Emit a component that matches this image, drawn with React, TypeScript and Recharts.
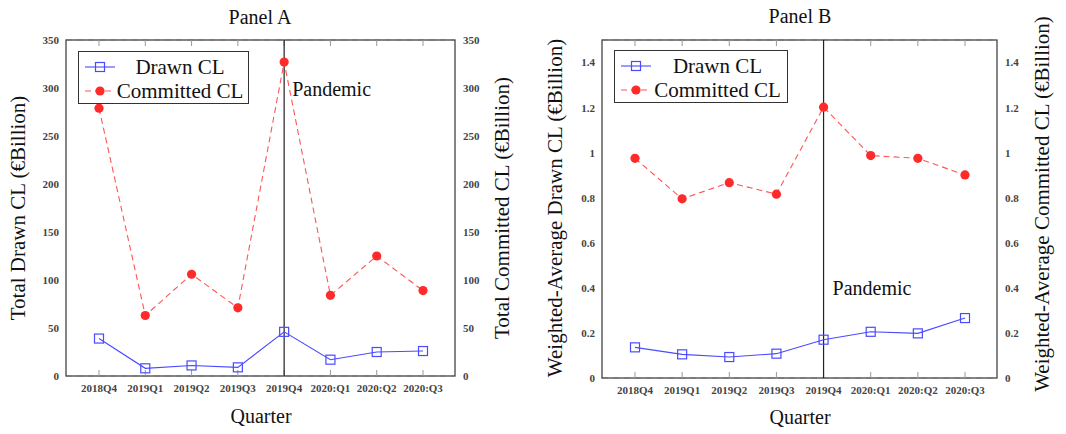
import * as R from 'recharts'
import { LineChart, Line, XAxis, YAxis, CartesianGrid, ReferenceLine } from 'recharts'

const quarters = ['2018Q4', '2019Q1', '2019Q2', '2019Q3', '2019Q4', '2020:Q1', '2020:Q2', '2020:Q3']
const totalDrawn = [39, 8, 11, 9, 46, 17, 25, 26]
const totalCommitted = [279, 63, 106, 71, 327, 84, 125, 89]
const avgDrawn = [0.136, 0.105, 0.093, 0.108, 0.17, 0.205, 0.198, 0.266]
const avgCommitted = [0.975, 0.795, 0.867, 0.816, 1.202, 0.987, 0.975, 0.901]
const ticksA = [0, 50, 100, 150, 200, 250, 300, 350]
const ticksB = [0, 0.2, 0.4, 0.6, 0.8, 1, 1.2, 1.4]

const BLUE = '#4a4aff'
const RED = '#ff2a2a'
const FONT = '"Liberation Serif", "DejaVu Serif", serif'

const dataA = quarters.map((q, i) => ({ q, drawn: totalDrawn[i], committed: totalCommitted[i] }))
const dataB = quarters.map((q, i) => ({ q, drawn: avgDrawn[i], committed: avgCommitted[i] }))

const usePlotArea: (() => { x: number; y: number; width: number; height: number } | undefined) | undefined =
  (R as any).usePlotArea

// box around the plot area
function Frame() {
  const area = usePlotArea ? usePlotArea() : undefined
  if (!area) return null
  return <rect x={area.x} y={area.y} width={area.width} height={area.height} fill="none" stroke="#444" strokeWidth={1.3} />
}

const SquareDot = (p: any) => {
  if (p.cx == null || p.cy == null) return <g key={p.index} />
  return <rect key={p.index} x={p.cx - 4.5} y={p.cy - 4.5} width={9} height={9} fill="none" stroke={BLUE} strokeWidth={1.2} />
}
const RoundDot = (p: any) => {
  if (p.cx == null || p.cy == null) return <g key={p.index} />
  return <circle key={p.index} cx={p.cx} cy={p.cy} r={4.6} fill={RED} stroke="none" />
}

const tickStyle = { fontSize: 11, fill: '#444', fontFamily: FONT, fontWeight: 700 }

interface PanelProps {
  left: number
  width: number
  data: { q: string; drawn: number; committed: number }[]
  domain: [number, number]
  ticks: number[]
  margin: { top: number; right: number; bottom: number; left: number }
  pandemicDx: number
  pandemicDy: number
}

function Panel({ left, width, data, domain, ticks, margin, pandemicDx, pandemicDy }: PanelProps) {
  const pad = { left: 33, right: 32 }
  const [lo, hi] = domain
  const tickLen = (hi - lo) * 0.018
  return (
    <div style={{ position: 'absolute', left, top: 0 }}>
      <LineChart width={width} height={434} data={data} margin={margin}>
        <CartesianGrid vertical={false} stroke="#c4c4c4" strokeDasharray="6 5" />
        <XAxis dataKey="q" padding={pad} tick={tickStyle} tickLine={false} tickSize={5} tickMargin={3}
          axisLine={false} height={30} interval={0} />
        <YAxis yAxisId="left" domain={domain} ticks={ticks} width={60} tick={tickStyle} tickLine={false}
          tickSize={5} tickMargin={2} axisLine={false} allowDataOverflow />
        <YAxis yAxisId="right" orientation="right" domain={domain} ticks={ticks} width={60} tick={tickStyle}
          tickLine={false} tickSize={5} tickMargin={3} axisLine={false} allowDataOverflow />
        {quarters.map((q) => (
          <ReferenceLine key={'b' + q} yAxisId="left" ifOverflow="visible" stroke="#999"
            segment={[{ x: q, y: lo }, { x: q, y: lo + tickLen }]} />
        ))}
        {quarters.map((q) => (
          <ReferenceLine key={'t' + q} yAxisId="left" ifOverflow="visible" stroke="#999"
            segment={[{ x: q, y: hi }, { x: q, y: hi - tickLen }]} />
        ))}
        <Frame />
        <ReferenceLine yAxisId="left" x="2019Q4" stroke="#222" strokeWidth={1.2}
          label={(p: any) => (
            <text x={p.viewBox.x + pandemicDx} y={p.viewBox.y + pandemicDy} fontFamily={FONT} fontSize={20} fill="#111">
              Pandemic
            </text>
          )} />
        <Line yAxisId="left" dataKey="drawn" stroke={BLUE} strokeWidth={1.1} dot={SquareDot} isAnimationActive={false} />
        <Line yAxisId="right" dataKey="committed" stroke={RED} strokeOpacity={0.8} strokeWidth={1.1} strokeDasharray="6 4"
          dot={RoundDot} isAnimationActive={false} />
      </LineChart>
    </div>
  )
}

function Legend({ left, top, width }: { left: number; top: number; width: number }) {
  const row = (marker: 'sq' | 'dot', label: string) => (
    <div style={{ display: 'flex', alignItems: 'center', height: 24 }}>
      <svg width={32} height={14} style={{ flexShrink: 0 }}>
        {marker === 'sq' ? (
          <>
            <line x1={1} x2={31} y1={7} y2={7} stroke={BLUE} strokeWidth={1.1} />
            <rect x={11.5} y={2.5} width={9} height={9} fill="none" stroke={BLUE} strokeWidth={1.2} />
          </>
        ) : (
          <>
            <line x1={1} x2={31} y1={7} y2={7} stroke={RED} strokeOpacity={0.8} strokeWidth={1.1} strokeDasharray="6 4" />
            <circle cx={16} cy={7} r={4.6} fill={RED} />
          </>
        )}
      </svg>
      <span style={{ flex: 1, textAlign: 'center', fontSize: 21, color: '#111', whiteSpace: 'nowrap' }}>{label}</span>
    </div>
  )
  return (
    <div style={{
      position: 'absolute', left, top, width, height: 53, boxSizing: 'border-box', border: '1.3px solid #333',
      background: '#fff', fontFamily: FONT, padding: '3px 4px 0 5px',
    }}>
      {row('sq', 'Drawn CL')}
      {row('dot', 'Committed CL')}
    </div>
  )
}

function Text({ x, y, children, rotate, size = 20 }: { x: number; y: number; children: string; rotate?: boolean; size?: number }) {
  return (
    <div style={{
      position: 'absolute', left: x, top: y, transform: `translate(-50%, -50%)${rotate ? ' rotate(-90deg)' : ''}`,
      whiteSpace: 'nowrap', fontFamily: FONT, fontSize: size, color: '#111', lineHeight: 1,
    }}>
      {children}
    </div>
  )
}

export default function App() {
  return (
    <div style={{ position: 'absolute', left: 0, top: 0, width: 1066, height: 434, background: '#fff', overflow: 'hidden' }}>
      <Panel left={0} width={530} data={dataA} domain={[0, 350]} ticks={ticksA}
        margin={{ top: 40, right: 15, bottom: 28, left: 6 }} pandemicDx={8} pandemicDy={56} />
      <Panel left={533} width={533} data={dataB} domain={[0, 1.5]} ticks={ticksB}
        margin={{ top: 40, right: 9, bottom: 26, left: 9 }} pandemicDx={9} pandemicDy={255} />
      <Legend left={78} top={51} width={171} />
      <Legend left={614} top={50} width={174} />
      <Text x={260} y={17}>Panel A</Text>
      <Text x={800} y={16}>Panel B</Text>
      <Text x={261} y={416}>Quarter</Text>
      <Text x={800} y={417}>Quarter</Text>
      <Text x={18} y={208} rotate size={21}>Total Drawn CL (€Billion)</Text>
      <Text x={502} y={208} rotate size={21}>Total Committed CL (€Billion)</Text>
      <Text x={555} y={208} rotate size={21}>Weighted-Average Drawn CL (€Billion)</Text>
      <Text x={1042} y={204} rotate size={21}>Weighted-Average Committed CL (€Billion)</Text>
    </div>
  )
}
